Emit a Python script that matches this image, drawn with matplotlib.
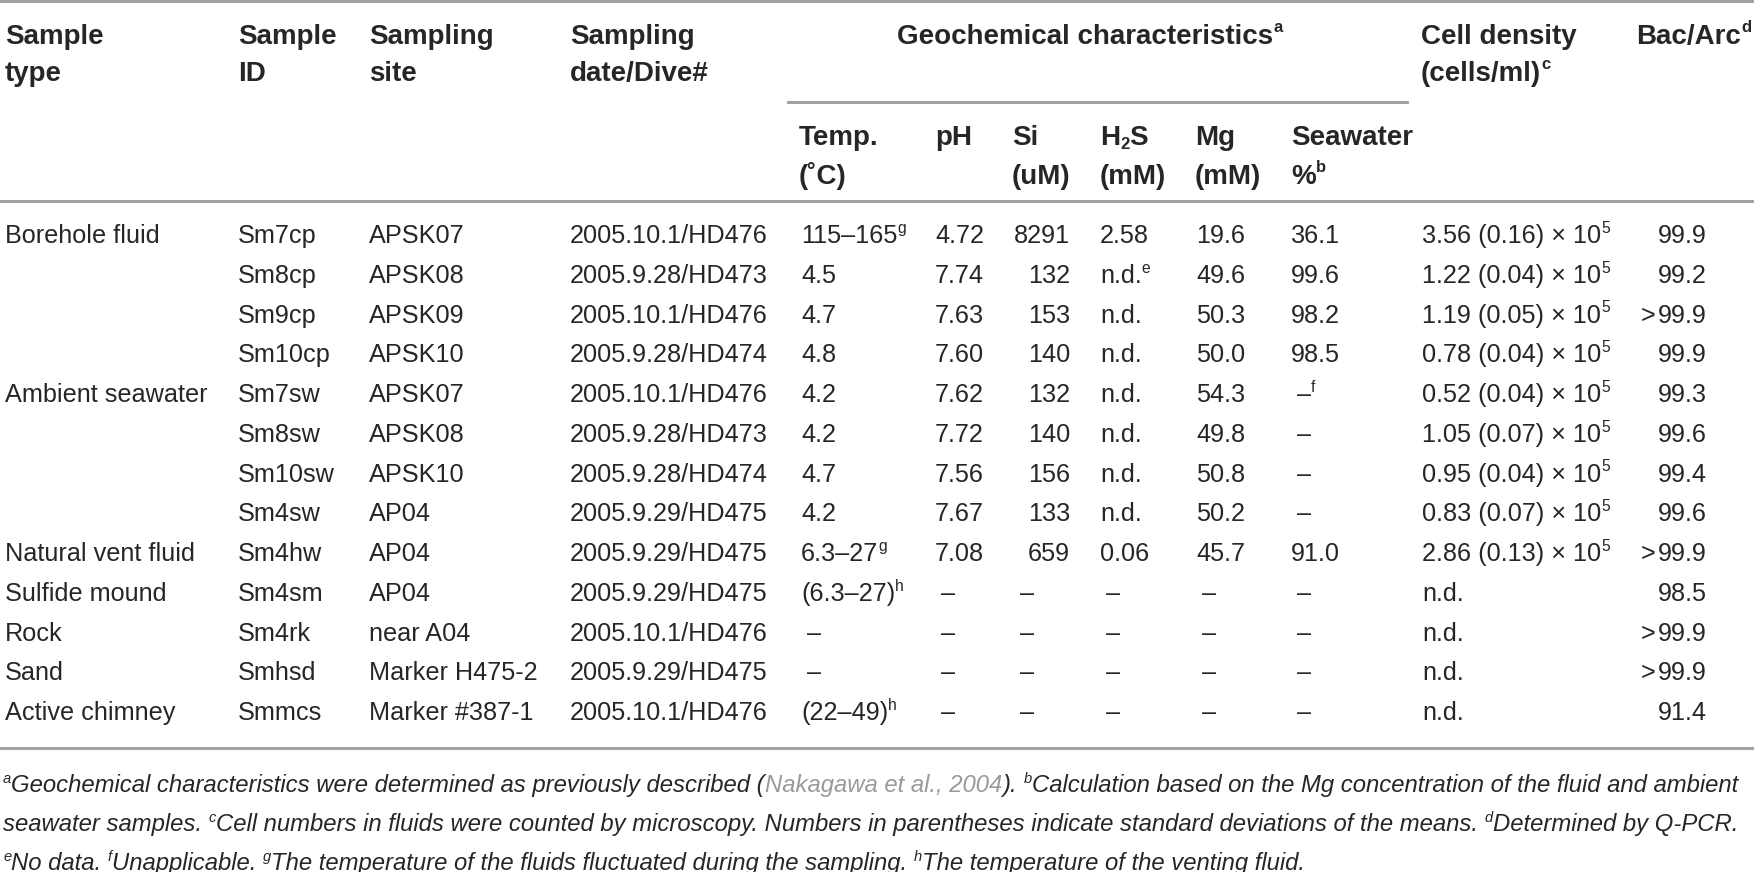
import matplotlib
matplotlib.use("Agg")
import matplotlib.pyplot as plt
from matplotlib import font_manager

# ---- table content -------------------------------------------------------
# markup: ^x superscript char, _x subscript char, {...} grey citation text
sample_types = ["Borehole fluid", "", "", "", "Ambient seawater", "", "", "",
                "Natural vent fluid", "Sulfide mound", "Rock", "Sand", "Active chimney"]
sample_ids = ["Sm7cp", "Sm8cp", "Sm9cp", "Sm10cp", "Sm7sw", "Sm8sw", "Sm10sw", "Sm4sw",
              "Sm4hw", "Sm4sm", "Sm4rk", "Smhsd", "Smmcs"]
sites = ["APSK07", "APSK08", "APSK09", "APSK10", "APSK07", "APSK08", "APSK10", "AP04",
         "AP04", "AP04", "near A04", "Marker H475-2", "Marker #387-1"]
dates = ["2005.10.1/HD476", "2005.9.28/HD473", "2005.10.1/HD476", "2005.9.28/HD474",
         "2005.10.1/HD476", "2005.9.28/HD473", "2005.9.28/HD474", "2005.9.29/HD475",
         "2005.9.29/HD475", "2005.9.29/HD475", "2005.10.1/HD476", "2005.9.29/HD475",
         "2005.10.1/HD476"]
temps = ["115–165^g", "4.5", "4.7", "4.8", "4.2", "4.2", "4.7", "4.2", "6.3–27^g",
         "(6.3–27)^h", "–", "–", "(22–49)^h"]
ph = ["4.72", "7.74", "7.63", "7.60", "7.62", "7.72", "7.56", "7.67", "7.08", "–", "–", "–", "–"]
si = ["8291", "132", "153", "140", "132", "140", "156", "133", "659", "–", "–", "–", "–"]
h2s = ["2.58", "n.d.^e", "n.d.", "n.d.", "n.d.", "n.d.", "n.d.", "n.d.", "0.06", "–", "–", "–", "–"]
mg = ["19.6", "49.6", "50.3", "50.0", "54.3", "49.8", "50.8", "50.2", "45.7", "–", "–", "–", "–"]
seawater = ["36.1", "99.6", "98.2", "98.5", "–^f", "–", "–", "–", "91.0", "–", "–", "–", "–"]
cell_density = ["3.56 (0.16) × 10^5", "1.22 (0.04) × 10^5", "1.19 (0.05) × 10^5",
                "0.78 (0.04) × 10^5", "0.52 (0.04) × 10^5", "1.05 (0.07) × 10^5",
                "0.95 (0.04) × 10^5", "0.83 (0.07) × 10^5", "2.86 (0.13) × 10^5",
                "n.d.", "n.d.", "n.d.", "n.d."]
bac_arc = ["99.9", "99.2", ">99.9", "99.9", "99.3", "99.6", "99.4", "99.6", ">99.9",
           "98.5", ">99.9", ">99.9", "91.4"]

main_headers = [("Sample", "type"), ("Sample", "ID"), ("Sampling", "site"),
                ("Sampling", "date/Dive#")]
group_header = "Geochemical characteristics^a"
sub_headers = [("Temp.", "(˚C)"), ("pH", ""), ("Si", "(uM)"), ("H_2S", "(mM)"),
               ("Mg", "(mM)"), ("Seawater", "%^b")]
right_headers = [("Cell density", "(cells/ml)^c"), ("Bac/Arc^d", "")]

footnotes = [
    "^aGeochemical characteristics were determined as previously described "
    "({Nakagawa et al., 2004}). ^bCalculation based on the Mg concentration of the fluid and ambient",
    "seawater samples. ^cCell numbers in fluids were counted by microscopy. Numbers in "
    "parentheses indicate standard deviations of the means. ^dDetermined by Q-PCR.",
    "^eNo data. ^fUnapplicable. ^gThe temperature of the fluids fluctuated during the "
    "sampling. ^hThe temperature of the venting fluid.",
]


def have_font(name):
    try:
        font_manager.findfont(font_manager.FontProperties(family=name),
                              fallback_to_default=False)
        return True
    except Exception:
        return False


BODY = "Liberation Sans"
NARROW = "Liberation Sans Narrow" if have_font("Liberation Sans Narrow") else "Liberation Sans"
INK = "#262626"
GREY_TXT = "#9a9a9a"
RULE = "#a3a3a3"

W, H = 1754, 872
fig = plt.figure(figsize=(W / 100, H / 100), dpi=100)
ax = fig.add_axes([0, 0, 1, 1])
ax.set_xlim(0, W)
ax.set_ylim(H, 0)
ax.axis("off")
renderer = fig.canvas.get_renderer()
PX = 100 / 72  # pixels per point


def parse(s):
    runs, buf, grey, i = [], "", False, 0
    while i < len(s):
        c = s[i]
        if c in "^_{}":
            if buf:
                runs.append((buf, "n", grey))
                buf = ""
            if c == "^":
                runs.append((s[i + 1], "sup", grey))
                i += 2
                continue
            if c == "_":
                runs.append((s[i + 1], "sub", grey))
                i += 2
                continue
            grey = c == "{"
            i += 1
            continue
        buf += c
        i += 1
    if buf:
        runs.append((buf, "n", grey))
    return runs


def measure(txt, **kw):
    # sentinels so that spaces at the ends are counted
    t = ax.text(0, 0, "|" + txt + "|", **kw)
    w1 = t.get_window_extent(renderer).width
    t.set_text("||")
    w0 = t.get_window_extent(renderer).width
    t.remove()
    return w1 - w0


def draw(x, y, s, size, ha="left", family=BODY, weight="normal", style="normal",
         color=INK, sup_scale=0.62, sup_rise=0.40, dry=False):
    pieces = []
    for txt, kind, grey in parse(s):
        fs = size * sup_scale if kind != "n" else size
        dy = 0.0
        if kind == "sup":
            dy = -sup_rise * size * PX
        elif kind == "sub":
            dy = 0.16 * size * PX
        kw = dict(fontsize=fs, family=family, weight=weight, style=style,
                  color=GREY_TXT if grey else color)
        pieces.append((txt, dy, kw, measure(txt, **kw)))
    total = sum(p[3] for p in pieces)
    if dry:
        return total
    if ha == "right":
        x -= total
    elif ha == "center":
        x -= total / 2
    for txt, dy, kw, w in pieces:
        ax.text(x, y + dy, txt, ha="left", va="baseline", **kw)
        x += w
    return total


BODY_FS = 18.2
HEAD_FS = 20.0
body_off = 0.36 * BODY_FS * PX
head_off = 0.36 * HEAD_FS * PX

# ---- rules ----------------------------------------------------------------
for yy in (1.5, 201.5, 748):
    ax.axhline(yy, color=RULE, lw=2.2, xmin=0, xmax=1)
ax.axhline(102, color=RULE, lw=2.2, xmin=788 / W, xmax=1407 / W)

# ---- headers --------------------------------------------------------------
head_rows = [34, 71]
sub_rows = [135, 174]
main_x = [5, 238, 369, 570]
sub_x = [799, 935, 1012, 1100, 1195, 1291]
right_x = [1421, 1636]

hk = dict(size=HEAD_FS, family=NARROW, weight="bold", sup_scale=0.6, sup_rise=0.42)
for x, (l1, l2) in zip(main_x, main_headers):
    draw(x, head_rows[0] + head_off, l1, **hk)
    draw(x, head_rows[1] + head_off, l2, **hk)
draw(1090, head_rows[0] + head_off, group_header, ha="center", **hk)
for x, (l1, l2) in zip(sub_x, sub_headers):
    draw(x, sub_rows[0] + head_off, l1, **hk)
    if l2:
        draw(x, sub_rows[1] + head_off, l2, **hk)
for x, (l1, l2) in zip(right_x, right_headers):
    draw(x, head_rows[0] + head_off, l1, **hk)
    if l2:
        draw(x, head_rows[1] + head_off, l2, **hk)

# ---- body -----------------------------------------------------------------
row0, row_step = 234, 39.75
DASH_IN = 6
left_cols = [(sample_types, 5), (sample_ids, 238), (sites, 369), (dates, 570),
             (temps, 801), (ph, 935), (h2s, 1100), (mg, 1196), (seawater, 1291),
             (cell_density, 1422)]
for i in range(len(sample_ids)):
    yb = row0 + i * row_step + body_off
    for col, x in left_cols:
        s = col[i]
        if not s:
            continue
        draw(x + (DASH_IN if s.startswith("–") else 0), yb, s, BODY_FS)
    if si[i].startswith("–"):
        draw(1012 + 8, yb, si[i], BODY_FS)
    else:
        draw(1070, yb, si[i], BODY_FS, ha="right")
    # Bac/Arc: digits line up, the ">" sign hangs to the left
    val = bac_arc[i]
    if val.startswith(">"):
        draw(1656, yb, ">", BODY_FS, ha="right")
        val = val[1:]
    draw(1658, yb, val, BODY_FS)

# ---- footnotes ------------------------------------------------------------
fn_kw = dict(family=NARROW, style="italic", weight="normal", sup_scale=0.62, sup_rise=0.38)
probe = draw(0, 0, footnotes[1], 10.0, dry=True, **fn_kw)
fn_fs = 10.0 * 1744 / probe
fn_off = 0.36 * fn_fs * PX
for yy, line in zip([783, 822, 861], footnotes):
    draw(3, yy + fn_off, line, fn_fs, **fn_kw)

fig.savefig("out.png", dpi=100)
